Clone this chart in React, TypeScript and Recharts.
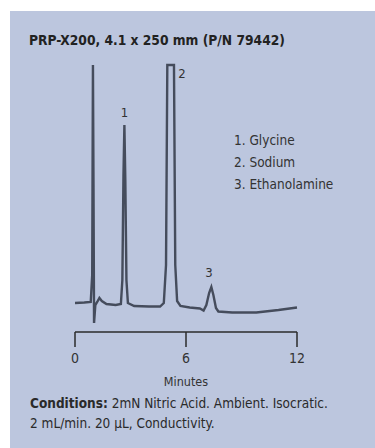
import { LineChart, Line, XAxis, YAxis, ReferenceDot } from "recharts";

const FONT =
  '"Liberation Sans Narrow", "Arial Narrow", "DejaVu Sans Condensed", sans-serif';

// retention time (min) and detector signal (arbitrary units, baseline = 0)
const TIMES = [
  0, 0.5, 0.85, 0.93, 0.97, 1.0, 1.03, 1.1, 1.2, 1.32, 1.45, 1.7, 2.2, 2.48,
  2.56, 2.62, 2.67, 2.72, 2.78, 2.86, 3.2, 4.0, 4.6, 4.8, 4.92, 4.99, 5.35,
  5.42, 5.52, 5.7, 6.2, 6.75, 6.95, 7.1, 7.25, 7.37, 7.48, 7.62, 7.75, 8.5,
  9.8, 11, 12,
];
const SIGNAL = [
  2, 2.5, 3, 30, 240, 120, -18, 0, 3, 7, 4, 1, 0, 1, 25, 130, 180, 125, 25, 2,
  -1, -1.5, -1.5, 2, 40, 240, 240, 40, 4, -1, -2.5, -3.5, -5.5, 0, 12, 18, 10,
  -3, -6.5, -7.5, -7.5, -5, -2.5,
];

const X_TICKS = [0, 6, 12];

const PEAK_LABELS = ["1", "2", "3"];
const PEAK_LABEL_TIMES = [2.67, 5.78, 7.24];
const PEAK_LABEL_LEVELS = [193, 232, 33];

const LEGEND = ["1. Glycine", "2. Sodium", "3. Ethanolamine"];

const data = TIMES.map((t, i) => ({ t, v: SIGNAL[i] }));

export default function App() {
  return (
    <div
      style={{
        position: "fixed",
        left: 0,
        top: 0,
        width: 375,
        height: 448,
        background: "#fff",
        overflow: "hidden",
      }}
    >
      {/* panel */}
      <div
        style={{
          position: "absolute",
          left: 10,
          top: 11,
          width: 365,
          height: 437,
          background: "#bcc6de",
        }}
      />

      <div style={{ position: "absolute", left: 0, top: 0 }}>
        <LineChart
          width={375}
          height={448}
          data={data}
          margin={{ top: 60, right: 78, bottom: 86, left: 75 }}
        >
          <XAxis
            dataKey="t"
            type="number"
            domain={[0, 12]}
            ticks={X_TICKS}
            height={30}
            tickSize={15}
            tickMargin={6}
            axisLine={{ stroke: "#2b2b2b", strokeWidth: 1.5 }}
            tickLine={{ stroke: "#2b2b2b", strokeWidth: 1.5 }}
            tick={{ fill: "#333", fontSize: 14, fontFamily: FONT }}
          />
          <YAxis type="number" domain={[-27, 245]} hide allowDataOverflow />
          <Line
            type="linear"
            dataKey="v"
            stroke="#454c5c"
            strokeWidth={2.4}
            dot={false}
            isAnimationActive={false}
          />
          {PEAK_LABELS.map((lab, i) => (
            <ReferenceDot
              key={lab}
              x={PEAK_LABEL_TIMES[i]}
              y={PEAK_LABEL_LEVELS[i]}
              r={0}
              stroke="none"
              label={{
                value: lab,
                position: "center",
                fill: "#333",
                fontSize: 13,
                fontFamily: FONT,
              }}
            />
          ))}
        </LineChart>
      </div>

      <svg
        width={375}
        height={448}
        style={{ position: "absolute", left: 0, top: 0, pointerEvents: "none" }}
        fontFamily={FONT}
      >
        <text x={29} y={45} fontSize={13.7} fontWeight="bold" fill="#222">
          PRP-X200, 4.1 x 250 mm (P/N 79442)
        </text>
        {LEGEND.map((s, i) => (
          <text key={s} x={234} y={144.5 + i * 22} fontSize={13.5} fill="#333">
            {s}
          </text>
        ))}
        <text x={186} y={386} fontSize={12.5} fill="#333" textAnchor="middle">
          Minutes
        </text>
        <text x={30} y={408.3} fontSize={13.5} fill="#2a2a2a">
          <tspan fontWeight="bold">Conditions:</tspan> 2mN Nitric Acid. Ambient.
          Isocratic.
        </text>
        <text x={30} y={427.5} fontSize={13.5} fill="#2a2a2a">
          2 mL/min. 20 µL, Conductivity.
        </text>
      </svg>
    </div>
  );
}
